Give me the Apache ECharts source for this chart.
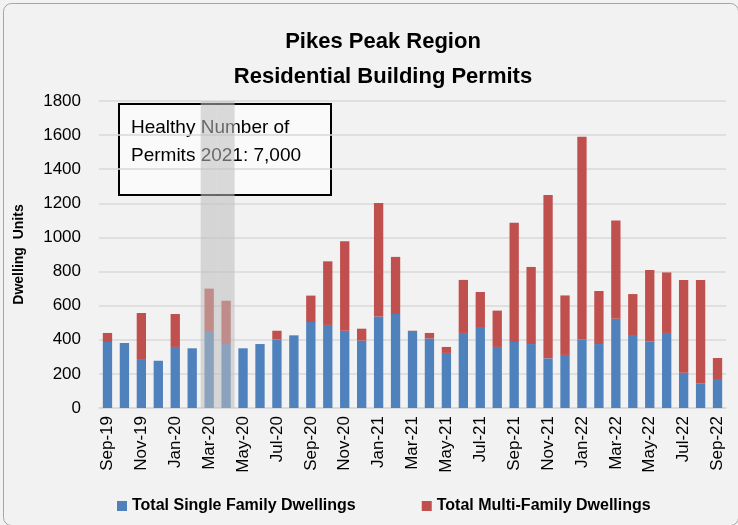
<!DOCTYPE html>
<html>
<head>
<meta charset="utf-8">
<script src="https://cdn.jsdelivr.net/npm/echarts@6/dist/echarts.min.js"></script>
<style>
  html, body { margin: 0; padding: 0; background: #f2f2f2; }
  #chart { width: 738px; height: 525px; }
</style>
</head>
<body>
<div id="chart"></div>
<script>
// 月份
const months = [
  'Sep-19', 'Oct-19', 'Nov-19', 'Dec-19', 'Jan-20', 'Feb-20', 'Mar-20', 'Apr-20', 'May-20', 'Jun-20',
  'Jul-20', 'Aug-20', 'Sep-20', 'Oct-20', 'Nov-20', 'Dec-20', 'Jan-21', 'Feb-21', 'Mar-21', 'Apr-21',
  'May-21', 'Jun-21', 'Jul-21', 'Aug-21', 'Sep-21', 'Oct-21', 'Nov-21', 'Dec-21', 'Jan-22', 'Feb-22',
  'Mar-22', 'Apr-22', 'May-22', 'Jun-22', 'Jul-22', 'Aug-22', 'Sep-22'
]
// 独栋住宅
const singleFamily = [
  387, 381, 287, 277, 358, 350, 446, 375, 350, 375,
  402, 426, 504, 487, 453, 395, 537, 551, 446, 408,
  323, 440, 475, 358, 387, 375, 291, 311, 402, 375,
  524, 428, 389, 440, 207, 144, 170
]
// 多户住宅
const multiFamily = [
  53, 0, 270, 0, 193, 0, 254, 254, 0, 0,
  51, 0, 155, 373, 524, 70, 665, 335, 7, 32,
  35, 311, 205, 213, 699, 452, 958, 349, 1189, 311,
  576, 240, 420, 355, 544, 607, 123
]
// 灰色区域（疫情月份）
const shadedMonths = ['Mar-20', 'Apr-20']
const yTicks = { min: 0, max: 1800, interval: 200 }

const font = "'Liberation Sans', sans-serif"
const chart = echarts.init(document.getElementById('chart'))

const option = {
  backgroundColor: '#f2f2f2',
  textStyle: { fontFamily: font },
  title: {
    text: 'Pikes Peak Region\nResidential Building Permits',
    left: 378,
    top: 19,
    textAlign: 'center',
    textStyle: { fontSize: 22, fontWeight: 'bold', color: '#000', lineHeight: 35, fontFamily: font }
  },
  grid: { left: 99, right: 12, top: 101, bottom: 117 },
  legend: {
    data: ['Total Single Family Dwellings', 'Total Multi-Family Dwellings'],
    bottom: 6,
    left: 112,
    icon: 'rect',
    itemWidth: 10,
    itemHeight: 10,
    itemGap: 66,
    textStyle: { fontSize: 16, fontWeight: 'bold', color: '#000', fontFamily: font }
  },
  xAxis: [
    {
      type: 'category',
      data: months,
      axisLine: { lineStyle: { color: '#d9d9d9', width: 1.5 } },
      axisTick: { interval: 1, length: 6, lineStyle: { color: '#d9d9d9' } },
      axisLabel: { interval: 1, rotate: 90, fontSize: 17, color: '#000', margin: 8 }
    },
    {
      type: 'category',
      data: months,
      show: false
    }
  ],
  yAxis: {
    type: 'value',
    min: yTicks.min,
    max: yTicks.max,
    interval: yTicks.interval,
    name: 'Dwelling  Units',
    nameLocation: 'middle',
    nameGap: 73,
    nameTextStyle: { fontSize: 14, fontWeight: 'bold', color: '#000' },
    axisLine: { show: false },
    axisTick: { show: false },
    axisLabel: { fontSize: 17, color: '#000', margin: 18, formatter: v => String(v) },
    splitLine: { lineStyle: { color: '#d9d9d9', width: 1.5 } }
  },
  series: [
    {
      name: 'Total Single Family Dwellings',
      type: 'bar',
      stack: 'total',
      data: singleFamily,
      barWidth: '55%',
      itemStyle: { color: '#4f81bd' }
    },
    {
      name: 'Total Multi-Family Dwellings',
      type: 'bar',
      stack: 'total',
      data: multiFamily,
      itemStyle: { color: '#c0504d' }
    },
    {
      name: 'shade',
      type: 'bar',
      xAxisIndex: 1,
      z: 5,
      barWidth: '100%',
      silent: true,
      data: months.map(m => (shadedMonths.includes(m) ? yTicks.max : null)),
      itemStyle: { color: 'rgba(190,190,190,0.55)' }
    }
  ],
  graphic: [
    {
      type: 'rect',
      left: 1,
      top: 1,
      shape: { width: 735, height: 522, r: 8 },
      style: { fill: 'none', stroke: '#a6a6a6', lineWidth: 1 },
      z: 0
    },
    {
      type: 'group',
      left: 118,
      top: 103,
      z: 10,
      children: [
        {
          type: 'rect',
          shape: { width: 212, height: 91 },
          style: { fill: '#fafafa', stroke: '#000', lineWidth: 2 }
        },
        {
          type: 'text',
          left: 12,
          top: 10,
          style: {
            text: 'Healthy Number of\nPermits 2021: 7,000',
            font: '19px ' + font,
            lineHeight: 28,
            fill: '#000'
          }
        }
      ]
    }
  ]
}
chart.setOption(option)
</script>
</body>
</html>
